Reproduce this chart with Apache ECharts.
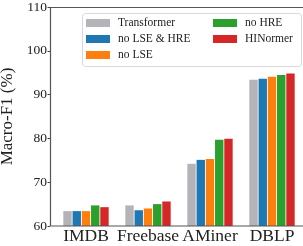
<!DOCTYPE html>
<html>
<head>
    <meta charset="UTF-8">
    <title>macro-f1</title>
    <script src="https://cdn.jsdelivr.net/npm/echarts@6/dist/echarts.min.js"></script>
    <style>
        html, body { margin: 0; padding: 0; background: #fff; }
        #main { width: 303px; height: 246px; }
    </style>
</head>
<body>
<div id="main"></div>
<script type="text/javascript">
    var categories = ['IMDB', 'Freebase', 'AMiner', 'DBLP'];
    var transformer = [63.4, 64.7, 74.2, 93.4];
    var noLseHre = [63.4, 63.6, 75.1, 93.6];
    var noLse = [63.4, 64.0, 75.3, 94.1];
    var noHre = [64.7, 65.0, 79.7, 94.5];
    var hinormer = [64.3, 65.6, 79.9, 94.8];

    var names = ['Transformer', 'no LSE & HRE', 'no LSE', 'no HRE', 'HINormer'];
    var colors = ['#b4b4b8', '#1f77b4', '#ff7f0e', '#2ca02c', '#d62728'];
    var values = [transformer, noLseHre, noLse, noHre, hinormer];

    var serif = '"Liberation Serif", "DejaVu Serif", serif';
    var myChart = echarts.init(document.getElementById('main'));

    var series = [];
    for (var i = 0; i < names.length; i++) {
        series.push({
            name: names[i],
            type: 'bar',
            data: values[i],
            barWidth: 8.4,
            barGap: '10%',
            itemStyle: { color: colors[i] }
        });
    }

    var legendText = { fontFamily: serif, fontSize: 11.5, color: '#222', lineHeight: 12, padding: [0, 0, 0, 3] };

    var option = {
        animation: false,
        grid: { left: 55, right: 0, top: 7, bottom: 20, outerBoundsMode: 'none', containLabel: false },
        legend: [
            {
                data: names.slice(0, 3), orient: 'vertical', left: 86, top: 17, padding: 0,
                itemWidth: 24, itemHeight: 8, itemGap: 4, icon: 'rect', textStyle: legendText
            },
            {
                data: names.slice(3), orient: 'vertical', left: 213, top: 17, padding: 0,
                itemWidth: 24, itemHeight: 8, itemGap: 4, icon: 'rect', textStyle: legendText
            }
        ],
        xAxis: {
            type: 'category',
            data: categories,
            axisLine: { show: false },
            axisTick: { show: false },
            axisLabel: { interval: 0, fontFamily: serif, fontSize: 17.5, color: '#222', margin: 1 }
        },
        yAxis: {
            type: 'value',
            min: 60, max: 110, interval: 10,
            offset: 5,
            name: 'Macro-F1 (%)',
            nameLocation: 'middle',
            nameGap: 34,
            nameTextStyle: { fontFamily: serif, fontSize: 17, color: '#222' },
            axisLine: { show: false },
            axisTick: { show: true, length: 2.5, lineStyle: { color: '#444' } },
            axisLabel: { fontFamily: serif, fontSize: 13.5, color: '#222', margin: 3 },
            splitLine: { show: false }
        },
        graphic: [
            {
                type: 'rect', z: 10, silent: true,
                shape: { x: 50.5, y: 7.5, width: 270, height: 218.5 },
                style: { fill: 'none', stroke: '#555', lineWidth: 1.2 }
            },
            {
                type: 'rect', z: 0, silent: true,
                shape: { x: 82.5, y: 13.5, width: 219, height: 53, r: 3 },
                style: { fill: '#fff', stroke: '#d8d8d8', lineWidth: 1 }
            }
        ],
        series: series
    };
    myChart.setOption(option);
</script>
</body>
</html>
